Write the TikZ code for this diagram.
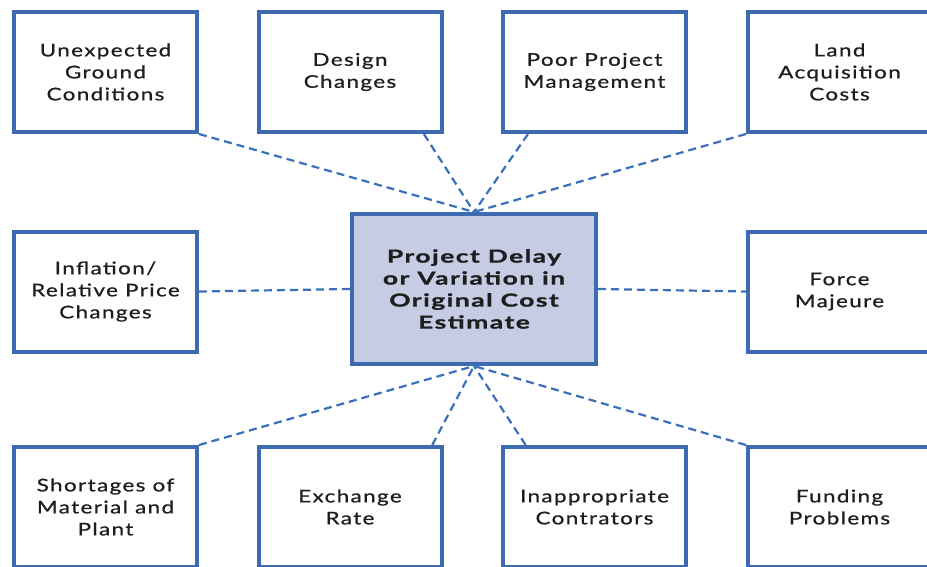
\documentclass[tikz,border=0pt]{standalone}
\usepackage{fontspec}
\usepackage{xcolor}
\usepackage{tikz}
\usetikzlibrary{arrows.meta}

\newfontfamily\boxfont[FakeStretch=1.28,LetterSpace=8,FakeBold=0.8]{Lato}
\newfontfamily\corefont[FakeStretch=1.47,LetterSpace=8,FakeBold=1]{Lato}
\definecolor{frameblue}{RGB}{62,106,176}
\definecolor{lineblue}{RGB}{58,112,186}
\definecolor{corefill}{RGB}{198,204,228}
\definecolor{textgrey}{RGB}{30,30,30}

\begin{document}
\begin{tikzpicture}[x=1pt, y=-1pt,
		factor/.style={draw=frameblue, line width=4pt, fill=white, minimum width=183pt, minimum height=120pt,
			align=center, text=textgrey, font=\boxfont\fontsize{17.5}{22}\selectfont, inner sep=0pt},
		core/.style={factor, fill=corefill, minimum width=244pt, minimum height=150pt,
			font=\corefont\bfseries\fontsize{18}{22}\selectfont},
		link/.style={draw=lineblue, line width=2.2pt, dash pattern=on 8pt off 5pt}]
				\useasboundingbox (0,0) rectangle (927,566);
				\clip (0,0) rectangle (927,566);
				
				% Top row
				\node[factor] (ground) at (105.5,72) {Unexpected\\Ground\\Conditions};
				\node[factor] (design) at (350,72) {Design\\Changes};
				\node[factor] (mgmt) at (594.5,72) {Poor Project\\Management};
				\node[factor] (land) at (839.5,72) {Land\\Acquisition\\Costs};
				
				% Middle row
				\node[factor] (inflation) at (105.5,291.5) {Inflation/\\Relative Price\\Changes};
				\node[core] (cost) at (474,289) {Project Delay\\or Variation in\\Original Cost\\Estimate};
				\node[factor] (force) at (839.5,291.5) {Force\\Majeure};
				
				% Bottom row
				\node[factor] (shortage) at (105.5,507) {Shortages of\\Material and\\Plant};
				\node[factor] (exchange) at (350,507) {Exchange\\Rate};
				\node[factor] (contractor) at (594.5,507) {Inappropriate\\Contrators};
				\node[factor] (funding) at (839.5,507) {Funding\\Problems};
				
				% Dashed links to the centre
				\draw[link] (ground.south east) -- (cost.north);
				\draw[link] (design.-40) -- (cost.north);
				\draw[link] (mgmt.-137) -- (cost.north);
				\draw[link] (land.south west) -- (cost.north);
				\draw[link] (inflation.east) -- (cost.west);
				\draw[link] (cost.east) -- (force.west);
				\draw[link] (shortage.north east) -- (cost.south);
				\draw[link] (exchange.37) -- (cost.south);
				\draw[link] (contractor.138) -- (cost.south);
				\draw[link] (funding.north west) -- (cost.south);
				
			\end{tikzpicture}
\end{document}
